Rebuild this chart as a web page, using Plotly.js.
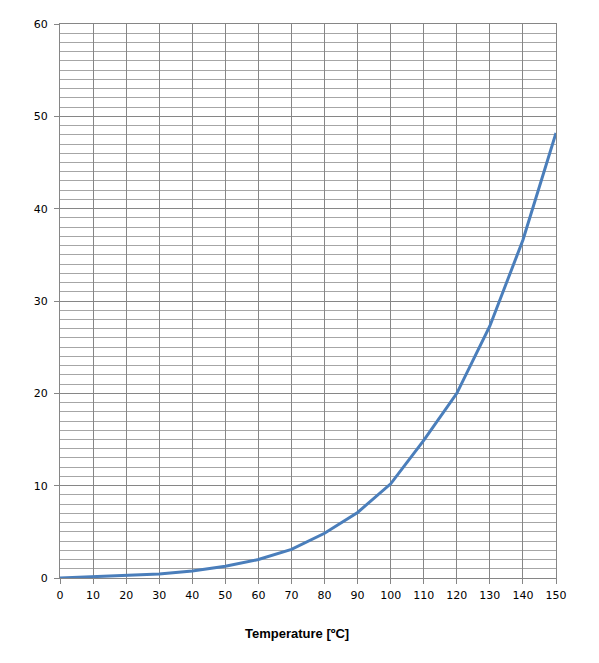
<!DOCTYPE html>
<html><head><meta charset="utf-8">
<script src="https://cdn.plot.ly/plotly-3.0.1.min.js"></script>
<style>html,body{margin:0;padding:0;background:#fff;}</style>
</head><body>
<div id="chart" style="width:599px;height:663px;"></div>
<script>
const temperature = [0, 10, 20, 30, 40, 50, 60, 70, 80, 90, 100, 110, 120, 130, 140, 150];
const values = [0.0, 0.13, 0.25, 0.43, 0.76, 1.27, 2.0, 3.1, 4.84, 7.1, 10.2, 14.9, 20.0, 27.3, 36.6, 48.2];
const xTitle = 'Temperature [ºC]';

Plotly.newPlot('chart', [{
  x: temperature, y: values, type: 'scatter', mode: 'lines',
  line: {color: '#4a7ebb', width: 3}, hoverinfo: 'skip'
}], {
  width: 599, height: 663,
  margin: {l: 60, r: 43, t: 24, b: 85},
  paper_bgcolor: '#fff', plot_bgcolor: '#fff',
  showlegend: false,
  font: {family: 'DejaVu Sans, Verdana, sans-serif', size: 11, color: '#000'},
  xaxis: {
    range: [0, 150], dtick: 10, tick0: 0, ticks: 'outside', ticklen: 5, tickcolor: '#868686',
    showgrid: true, gridcolor: '#868686', gridwidth: 1,
    showline: true, linecolor: '#868686', mirror: true, zeroline: false,
    ticklabelstandoff: 2,
    fixedrange: true
  },
  yaxis: {
    range: [0, 60], dtick: 10, tick0: 0, ticks: 'outside', ticklen: 5, tickcolor: '#868686',
    showgrid: true, gridcolor: '#868686', gridwidth: 1,
    minor: {dtick: 1, showgrid: true, gridcolor: '#a6a6a6', gridwidth: 1, ticks: ''},
    showline: true, linecolor: '#868686', mirror: true, zeroline: false,
    ticklabelstandoff: 4,
    fixedrange: true
  },
  annotations: [{
    text: xTitle, showarrow: false, xref: 'paper', yref: 'paper',
    x: 0.477, y: -0.0993, xanchor: 'center', yanchor: 'middle',
    font: {family: 'Liberation Sans, Arial, sans-serif', size: 13, weight: 'bold', color: '#000'}
  }]
}, {displayModeBar: false, staticPlot: true});
</script>
</body></html>
